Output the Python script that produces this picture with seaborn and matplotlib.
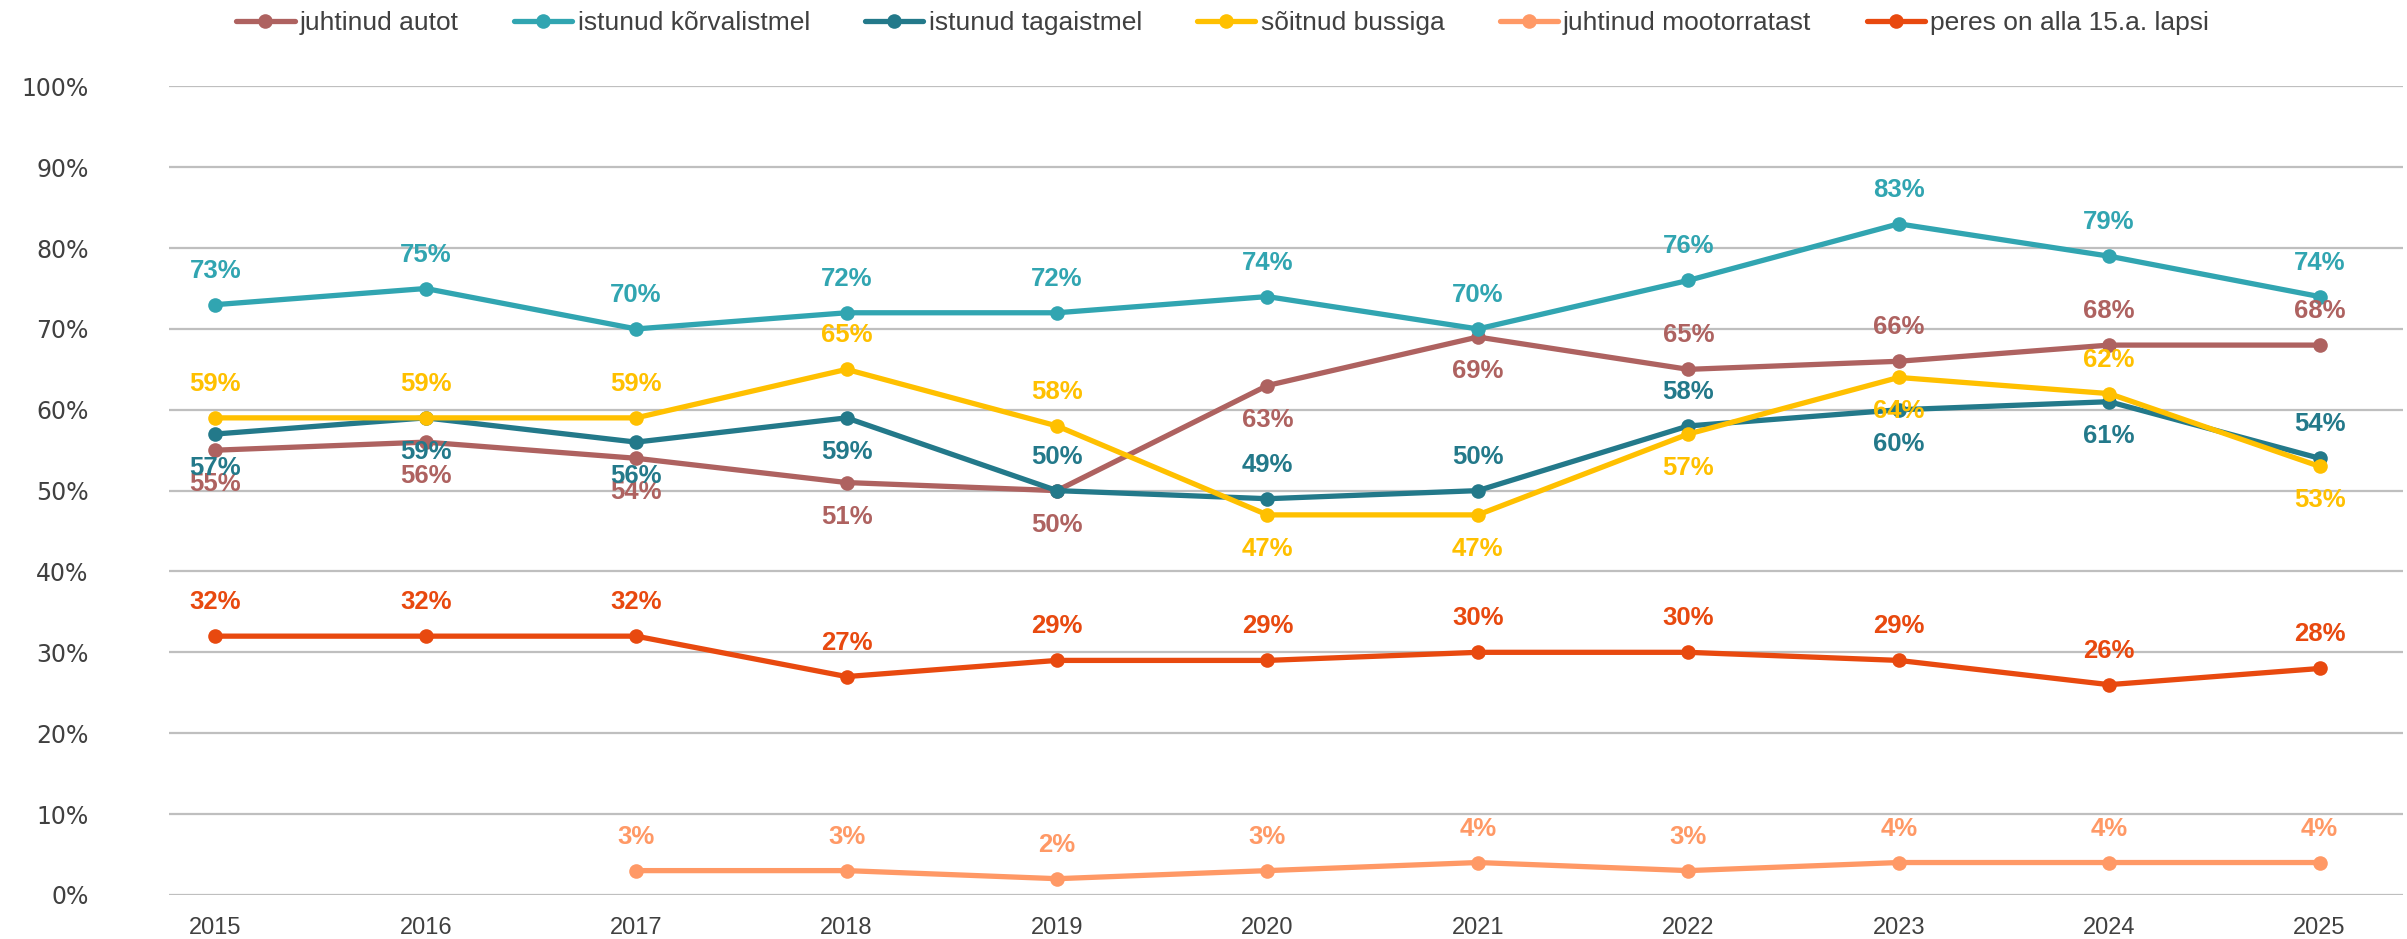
import numpy as np
import pandas as pd
import matplotlib
matplotlib.use("Agg")
import matplotlib.pyplot as plt
import seaborn as sns
from matplotlib.ticker import PercentFormatter

years = [2015, 2016, 2017, 2018, 2019, 2020, 2021, 2022, 2023, 2024, 2025]
series_names = ["juhtinud autot", "istunud kõrvalistmel", "istunud tagaistmel",
                "sõitnud bussiga", "juhtinud mootorratast", "peres on alla 15.a. lapsi"]
autot = [55, 56, 54, 51, 50, 63, 69, 65, 66, 68, 68]
korvalistmel = [73, 75, 70, 72, 72, 74, 70, 76, 83, 79, 74]
tagaistmel = [57, 59, 56, 59, 50, 49, 50, 58, 60, 61, 54]
bussiga = [59, 59, 59, 65, 58, 47, 47, 57, 64, 62, 53]
mootorratast = [np.nan, np.nan, 3, 3, 2, 3, 4, 3, 4, 4, 4]
lapsi = [32, 32, 32, 27, 29, 29, 30, 30, 29, 26, 28]

# label above (1) or below (-1) the point
label_side = {
    "juhtinud autot": [-1, -1, -1, -1, -1, -1, -1, 1, 1, 1, 1],
    "istunud kõrvalistmel": [1] * 11,
    "istunud tagaistmel": [-1, -1, -1, -1, 1, 1, 1, 1, -1, -1, 1],
    "sõitnud bussiga": [1, 1, 1, 1, 1, -1, -1, -1, -1, 1, -1],
    "juhtinud mootorratast": [1] * 11,
    "peres on alla 15.a. lapsi": [1] * 11,
}
colors = ["#AE6260", "#31A5B1", "#23798A", "#FFC000", "#FF9966", "#E8490F"]

values = [autot, korvalistmel, tagaistmel, bussiga, mootorratast, lapsi]
frames = []
for name, vals in zip(series_names, values):
    frames.append(pd.DataFrame({"Aasta": years, "Osakaal": np.array(vals, dtype=float) / 100, "Seeria": name}))
df = pd.concat(frames, ignore_index=True)

sns.set_style("white")
plt.rcParams["font.family"] = ["Liberation Sans Narrow", "Liberation Sans", "DejaVu Sans"]

fig = plt.figure(figsize=(24.07, 9.39), dpi=100)
ax = fig.add_axes([0.0702, 0.047, 0.928, 0.861])

sns.lineplot(data=df, x="Aasta", y="Osakaal", hue="Seeria", hue_order=series_names,
             palette=colors, marker="o", markersize=10.5, markeredgewidth=0,
             linewidth=3.8, ax=ax, legend=True)

for name, col in zip(series_names, colors):
    sub = df[df["Seeria"] == name].reset_index(drop=True)
    for (i, row), side in zip(sub.iterrows(), label_side[name]):
        if np.isnan(row["Osakaal"]):
            continue
        ax.annotate(f"{row['Osakaal'] * 100:.0f}%", (row["Aasta"], row["Osakaal"]),
                    xytext=(0, 34 * side), textcoords="offset pixels",
                    ha="center", va="center", color=col, fontsize=18.5, fontweight="bold")

ax.set_ylim(0, 1)
ax.set_xlim(2015 - 0.22, 2025 + 0.395)
ax.set_yticks(np.arange(0, 1.01, 0.1))
ax.yaxis.set_major_formatter(PercentFormatter(1.0, decimals=0))
ax.set_xticks(years)
ax.grid(True, axis="y", color="#BFBFBF", linewidth=1.6)
ax.grid(False, axis="x")
sns.despine(ax=ax, left=True, bottom=True, top=True, right=True)
ax.tick_params(axis="y", length=0, pad=58, labelcolor="#404040")
ax.tick_params(axis="x", length=0, pad=16, labelsize=17, labelcolor="#404040")
for lab in ax.get_yticklabels():
    lab.set_fontfamily(["DejaVu Sans"])
    lab.set_fontsize(17)
ax.set_xlabel("")
ax.set_ylabel("")

handles, labels = ax.get_legend_handles_labels()
ax.legend_.remove()
fig.legend(handles, labels, loc="center", bbox_to_anchor=(0.508, 0.975), ncol=6,
           frameon=False, fontsize=19, handlelength=2.2, columnspacing=2.1,
           handletextpad=0.2, labelcolor="#404040")

fig.savefig("out.png", dpi=100)
